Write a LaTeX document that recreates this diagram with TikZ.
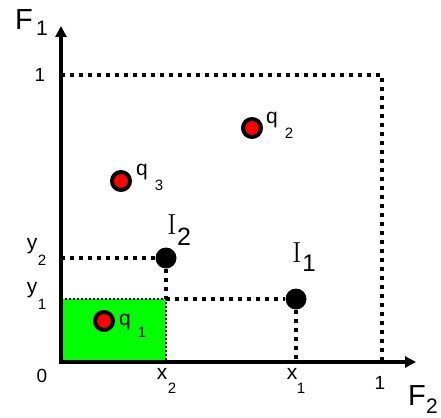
\documentclass[tikz,border=0pt]{standalone}
\usepackage{fontspec}
\setsansfont{Liberation Sans}
\usetikzlibrary{arrows.meta}
\newcommand{\fsz}[1]{\fontsize{#1pt}{#1pt}\selectfont}
\begin{document}
\begin{tikzpicture}[x=1pt,y=-1pt,
  thickdot/.style={line width=4.2pt,dash pattern=on 4.2pt off 4.8pt},
  thindot/.style={line width=1.5pt,dash pattern=on 2pt off 2pt},
  axis/.style={line width=4pt,-{Triangle[length=11pt,width=11pt]}},
  ipt/.style={circle,fill=black,minimum size=21pt,inner sep=0pt},
  qpt/.style={circle,draw=black,line width=4pt,fill=red,minimum size=18pt,inner sep=0pt},
  lab/.style={inner sep=0pt,font=\sffamily\fsz{21}},
  sub/.style={inner sep=0pt,font=\sffamily\fsz{15}}]
\useasboundingbox (0,0) rectangle (441,417);
% green box
\fill[green] (61,299) rectangle (166,362);
\coordinate (o) at (61,362);
\coordinate (x2) at (166,362);
\coordinate (y1) at (61,299);
\coordinate (c) at (166,299);
\draw[thindot] (y1) -- (c) -- (x2);
% unit lines
\coordinate (one1) at (61,75);
\coordinate (corner) at (382,75);
\coordinate (one2) at (382,362);
\draw[thickdot] (one1) -- (corner) -- (one2);
% points
\node[ipt] (I2) at (166,258) {};
\node[ipt] (I1) at (296,299) {};
\coordinate (y2) at (61,258);
\coordinate (x1) at (296,362);
\draw[thickdot] (y2) -- (I2);
\draw[thickdot] (I2) -- (c);
\draw[thickdot] (c) -- (I1);
\draw[thickdot] (I1) -- (x1);
% axes
\coordinate (ytop) at (61,26);
\coordinate (xend) at (416,362);
\draw[axis] (61,364) -- (ytop);
\draw[axis] (59,362) -- (xend);
% q points
\node[qpt] (q1) at (104,321) {};
\node[qpt] (q2) at (252,128) {};
\node[qpt] (q3) at (121,181) {};
% labels
\node[lab] (lq1) at (125,322) {q};
\node[sub] (sq1) at (142,332) {1};
\node[lab] (lq2) at (272,120) {q};
\node[sub] (sq2) at (289,133) {2};
\node[lab] (lq3) at (142,172) {q};
\node[sub] (sq3) at (159,185) {3};
\node[inner sep=0pt,font=\fsz{29}] (lI2) at (172,225) {I};
\node[inner sep=0pt,font=\sffamily\fsz{25}] (sI2) at (184,237) {2};
\node[inner sep=0pt,font=\fsz{29}] (lI1) at (297,253) {I};
\node[inner sep=0pt,font=\sffamily\fsz{24}] (sI1) at (309,263) {1};
\node[inner sep=0pt,font=\sffamily\fsz{29}] (lF1) at (24,20) {F};
\node[inner sep=0pt,font=\sffamily\fsz{21}] (sF1) at (42,28) {1};
\node[inner sep=0pt,font=\sffamily\fsz{29}] (lF2) at (417,396) {F};
\node[inner sep=0pt,font=\sffamily\fsz{21}] (sF2) at (432,406) {2};
\node[lab,font=\sffamily\fsz{19}] (l1y) at (40,75) {1};
\node[lab,font=\sffamily\fsz{19}] (l1x) at (380,383) {1};
\node[lab,font=\sffamily\fsz{19}] (l0) at (42,376) {0};
\node[lab] (lx2) at (162,374) {x};
\node[sub] (sx2) at (172,388) {2};
\node[lab] (lx1) at (292,374) {x};
\node[sub] (sx1) at (301,388) {1};
\node[lab] (ly2) at (32,246) {y};
\node[sub] (sy2) at (42,260) {2};
\node[lab] (ly1) at (32,290) {y};
\node[sub] (sy1) at (42,304) {1};
\end{tikzpicture}
\end{document}
